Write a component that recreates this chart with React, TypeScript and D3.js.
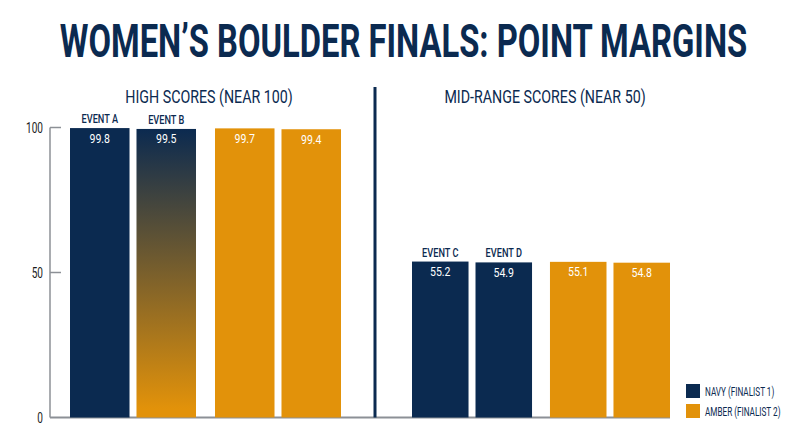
import React from "react";
import * as d3 from "d3";

const panelTitles = ["HIGH SCORES (NEAR 100)", "MID-RANGE SCORES (NEAR 50)"];
const panelEvents = [["EVENT A", "EVENT B"], ["EVENT C", "EVENT D"]];
const finalist1 = [[99.8, 99.5], [55.2, 54.9]];
const finalist2 = [[99.7, 99.4], [55.1, 54.8]];
const seriesNames = ["NAVY (FINALIST 1)", "AMBER (FINALIST 2)"];
const yTicks = [0, 50, 100];
const gradientEvents = ["EVENT B"];

const W = 800;
const H = 447;
const NAVY = "#0b2a50";
const AMBER = "#e2920a";
const GRID = "#8c9096";
const FONT = "Roboto, 'Noto Sans', sans-serif";
const SX = 0.7;

const baseY = 417.5;
const panelLayout = [
  { x0: 70, x1: 341, top: 127.5, outerPad: 0.131, innerPad: 0.105, titleX: 209 },
  { x0: 412, x1: 670, top: 135, outerPad: 0.13, innerPad: 0.11, titleX: 545 },
];

function CText(props: {
  x: number; y: number; anchor?: string; size: number; weight?: number | string;
  fill?: string; sx?: number; children: React.ReactNode;
}) {
  const { x, y, anchor = "middle", size, weight = 400, fill = NAVY, sx = SX, children } = props;
  return (
    <text
      transform={`translate(${x},${y}) scale(${sx},1)`}
      textAnchor={anchor}
      fontSize={size}
      fontWeight={weight}
      fill={fill}
      fontFamily={FONT}
    >
      {children}
    </text>
  );
}

export default function App() {
  const yLeft = d3.scaleLinear().domain([0, 100]).range([baseY, panelLayout[0].top]);

  return (
    <div style={{ position: "fixed", left: 0, top: 0, width: W, height: H, background: "#fff" }}>
      <svg width={W} height={H} viewBox={`0 0 ${W} ${H}`} style={{ display: "block" }}>
        <defs>
          <linearGradient id="navyAmber" x1="0" y1="0" x2="0" y2="1">
            <stop offset="0%" stopColor={NAVY} />
            <stop offset="97%" stopColor={AMBER} />
          </linearGradient>
        </defs>
        <rect width={W} height={H} fill="#fff" />

        <CText x={403.5} y={57} size={46} weight={700} sx={0.712}>
          WOMEN’S BOULDER FINALS: POINT MARGINS
        </CText>

        {/* left axis */}
        <line x1={50} x2={50} y1={yLeft(100)} y2={baseY} stroke={GRID} strokeWidth={1.5} />
        {yTicks.map((t) => (
          <g key={t}>
            {t > 0 && <line x1={50} x2={61} y1={yLeft(t)} y2={yLeft(t)} stroke={GRID} strokeWidth={1.5} />}
            <CText x={43} y={yLeft(t) + 5} anchor="end" size={14} fill="#1a1a1a" sx={0.72}>
              {t}
            </CText>
          </g>
        ))}

        {/* baseline */}
        <line x1={50} x2={670} y1={baseY} y2={baseY} stroke={GRID} strokeWidth={2} />

        {/* divider */}
        <line x1={375} x2={375} y1={87} y2={baseY} stroke={NAVY} strokeWidth={3} />

        {panelLayout.map((p, pi) => {
          const y = d3.scaleLinear().domain([0, 100]).range([baseY, p.top]);
          const outer = d3.scaleBand<number>().domain([0, 1]).range([p.x0, p.x1]).paddingInner(p.outerPad);
          const inner = d3
            .scaleBand<string>()
            .domain(panelEvents[pi])
            .range([0, outer.bandwidth()])
            .paddingInner(p.innerPad);
          const series = [finalist1[pi], finalist2[pi]];
          return (
            <g key={pi}>
              <CText x={p.titleX} y={103} size={19} weight={400} sx={0.75}>
                {panelTitles[pi]}
              </CText>
              {series.map((vals, si) =>
                panelEvents[pi].map((ev, ei) => {
                  const v = vals[ei];
                  const bx = (outer(si) as number) + (inner(ev) as number);
                  const bw = inner.bandwidth();
                  const fill =
                    si === 0 ? (gradientEvents.includes(ev) ? "url(#navyAmber)" : NAVY) : AMBER;
                  return (
                    <g key={`${si}-${ev}`}>
                      <rect x={bx} y={y(v)} width={bw} height={baseY - y(v)} fill={fill} />
                      <CText x={bx + bw / 2} y={y(v) + 14.5} size={13.5} fill="#ffffff" sx={0.78}>
                        {v.toFixed(1)}
                      </CText>
                      {si === 0 && (
                        <CText x={bx + bw / 2} y={y(v) - 5} size={13.5} weight={500} sx={0.68}>
                          {ev}
                        </CText>
                      )}
                    </g>
                  );
                })
              )}
            </g>
          );
        })}

        {/* legend */}
        {seriesNames.map((n, i) => (
          <g key={n}>
            <rect x={686} y={384 + i * 20} width={14} height={14} fill={i === 0 ? NAVY : AMBER} />
            <CText x={705} y={395.5 + i * 20} anchor="start" size={12} sx={0.68}>
              {n}
            </CText>
          </g>
        ))}
      </svg>
    </div>
  );
}
